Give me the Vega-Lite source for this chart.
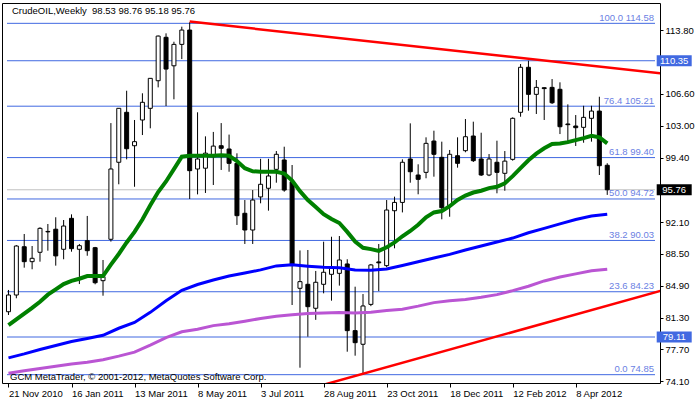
{
  "$schema": "https://vega.github.io/schema/vega-lite/v6.json",
  "width": 658,
  "height": 380,
  "autosize": {"type": "none"},
  "padding": {"left": 2, "top": 3, "right": 40, "bottom": 19},
  "background": "white",
  "config": {
    "view": {"stroke": "black", "strokeWidth": 1},
    "font": "Liberation Sans",
    "text": {"font": "Liberation Sans"},
    "axis": {"grid": false, "domain": false, "title": null, "tickColor": "black", "labelColor": "black", "labelFont": "Liberation Sans", "labelFontSize": 9.5, "labelOverlap": false, "labelBound": false, "labelFlush": false}
  },
  "datasets": {
    "candles": [
      {"d":"2010-11-21","o":81.97,"h":84.43,"l":81.6,"c":83.86},
      {"d":"2010-11-28","o":83.86,"h":89.5,"l":83.49,"c":89.4},
      {"d":"2010-12-05","o":89.32,"h":90.76,"l":86.95,"c":87.63},
      {"d":"2010-12-12","o":87.63,"h":89.4,"l":86.77,"c":88.01},
      {"d":"2010-12-19","o":88.69,"h":91.52,"l":87.63,"c":91.4},
      {"d":"2010-12-26","o":91.0,"h":91.89,"l":88.87,"c":91.05},
      {"d":"2011-01-02","o":91.3,"h":92.65,"l":87.18,"c":88.28},
      {"d":"2011-01-09","o":89.03,"h":92.34,"l":87.9,"c":91.66},
      {"d":"2011-01-16","o":92.53,"h":92.98,"l":88.76,"c":89.1},
      {"d":"2011-01-23","o":89.03,"h":89.63,"l":85.1,"c":89.44},
      {"d":"2011-01-30","o":90.0,"h":92.8,"l":88.3,"c":88.87},
      {"d":"2011-02-06","o":89.21,"h":89.3,"l":85.07,"c":85.25},
      {"d":"2011-02-13","o":85.48,"h":87.82,"l":83.78,"c":85.93},
      {"d":"2011-02-20","o":90.16,"h":103.3,"l":89.9,"c":98.11},
      {"d":"2011-02-27","o":98.87,"h":105.0,"l":96.38,"c":104.97},
      {"d":"2011-03-06","o":104.52,"h":106.96,"l":99.2,"c":100.4},
      {"d":"2011-03-13","o":100.74,"h":103.65,"l":96.1,"c":101.2},
      {"d":"2011-03-20","o":103.65,"h":106.67,"l":101.95,"c":105.65},
      {"d":"2011-03-27","o":104.97,"h":108.36,"l":102.71,"c":108.36},
      {"d":"2011-04-03","o":108.09,"h":113.2,"l":107.34,"c":113.14},
      {"d":"2011-04-10","o":113.0,"h":113.45,"l":105.23,"c":109.41},
      {"d":"2011-04-17","o":109.78,"h":112.5,"l":105.99,"c":112.2},
      {"d":"2011-04-24","o":112.2,"h":114.2,"l":110.54,"c":113.82},
      {"d":"2011-05-01","o":113.82,"h":114.7,"l":94.72,"c":97.92},
      {"d":"2011-05-08","o":98.11,"h":104.52,"l":95.24,"c":99.24},
      {"d":"2011-05-15","o":98.2,"h":101.8,"l":95.4,"c":99.9},
      {"d":"2011-05-22","o":99.5,"h":102.3,"l":96.3,"c":100.7},
      {"d":"2011-05-29","o":100.74,"h":103.3,"l":98.0,"c":100.45},
      {"d":"2011-06-05","o":100.37,"h":102.0,"l":97.8,"c":98.75},
      {"d":"2011-06-12","o":98.75,"h":99.88,"l":91.78,"c":92.83},
      {"d":"2011-06-19","o":93.1,"h":94.6,"l":89.63,"c":91.21},
      {"d":"2011-06-26","o":91.21,"h":95.73,"l":89.63,"c":94.6},
      {"d":"2011-07-03","o":94.95,"h":99.26,"l":94.23,"c":96.38},
      {"d":"2011-07-10","o":95.93,"h":99.26,"l":93.4,"c":97.32},
      {"d":"2011-07-17","o":98.07,"h":100.14,"l":96.56,"c":99.77},
      {"d":"2011-07-24","o":99.13,"h":100.63,"l":95.54,"c":95.73},
      {"d":"2011-07-31","o":96.67,"h":98.56,"l":82.73,"c":87.2},
      {"d":"2011-08-07","o":84.62,"h":88.9,"l":75.64,"c":85.37},
      {"d":"2011-08-14","o":85.07,"h":88.95,"l":79.15,"c":82.54},
      {"d":"2011-08-21","o":82.36,"h":86.58,"l":81.05,"c":85.3},
      {"d":"2011-08-28","o":85.07,"h":89.89,"l":84.05,"c":86.43},
      {"d":"2011-09-04","o":86.2,"h":90.45,"l":83.22,"c":86.88},
      {"d":"2011-09-11","o":86.31,"h":90.53,"l":84.92,"c":87.82},
      {"d":"2011-09-18","o":87.37,"h":87.9,"l":77.45,"c":79.83},
      {"d":"2011-09-25","o":79.83,"h":84.8,"l":77.0,"c":78.47},
      {"d":"2011-10-02","o":78.29,"h":83.97,"l":74.85,"c":82.62},
      {"d":"2011-10-09","o":82.8,"h":87.37,"l":82.6,"c":87.26},
      {"d":"2011-10-16","o":87.6,"h":89.63,"l":84.3,"c":87.5},
      {"d":"2011-10-23","o":87.18,"h":94.6,"l":87.0,"c":93.47},
      {"d":"2011-10-30","o":93.39,"h":94.98,"l":89.14,"c":94.33},
      {"d":"2011-11-06","o":94.33,"h":99.2,"l":93.2,"c":98.87},
      {"d":"2011-11-13","o":99.24,"h":103.27,"l":96.56,"c":97.8},
      {"d":"2011-11-20","o":97.43,"h":98.64,"l":95.25,"c":96.94},
      {"d":"2011-11-27","o":97.73,"h":101.69,"l":97.06,"c":101.01},
      {"d":"2011-12-04","o":101.27,"h":102.44,"l":97.24,"c":99.77},
      {"d":"2011-12-11","o":99.43,"h":101.2,"l":92.42,"c":93.73},
      {"d":"2011-12-18","o":93.96,"h":100.26,"l":92.71,"c":99.77},
      {"d":"2011-12-25","o":99.61,"h":101.69,"l":98.26,"c":98.75},
      {"d":"2012-01-01","o":100.18,"h":103.76,"l":100.0,"c":101.76},
      {"d":"2012-01-08","o":101.84,"h":103.46,"l":98.9,"c":99.05},
      {"d":"2012-01-15","o":99.24,"h":102.21,"l":97.32,"c":97.43},
      {"d":"2012-01-22","o":97.43,"h":99.8,"l":97.3,"c":99.24},
      {"d":"2012-01-29","o":98.87,"h":101.31,"l":95.36,"c":97.73},
      {"d":"2012-02-05","o":97.62,"h":100.14,"l":95.65,"c":99.0},
      {"d":"2012-02-12","o":99.2,"h":103.95,"l":99.05,"c":103.84},
      {"d":"2012-02-19","o":104.52,"h":109.98,"l":104.02,"c":109.61},
      {"d":"2012-02-26","o":109.61,"h":110.35,"l":104.7,"c":106.55},
      {"d":"2012-03-04","o":106.55,"h":108.17,"l":104.33,"c":107.34},
      {"d":"2012-03-11","o":107.3,"h":107.34,"l":103.65,"c":107.2},
      {"d":"2012-03-18","o":107.34,"h":108.28,"l":105.46,"c":105.6},
      {"d":"2012-03-25","o":107.12,"h":107.91,"l":102.06,"c":102.89},
      {"d":"2012-04-01","o":103.2,"h":105.42,"l":101.08,"c":103.12},
      {"d":"2012-04-08","o":102.97,"h":104.21,"l":100.71,"c":102.78},
      {"d":"2012-04-15","o":102.82,"h":105.26,"l":101.08,"c":103.95},
      {"d":"2012-04-22","o":103.84,"h":105.26,"l":101.2,"c":104.66},
      {"d":"2012-04-29","o":104.66,"h":106.28,"l":97.43,"c":98.48},
      {"d":"2012-05-06","o":98.53,"h":98.76,"l":95.18,"c":95.76}
    ],
    "green": [
      {"d":"2010-11-21","v":80.45},{"d":"2010-11-28","v":81.1},{"d":"2010-12-05","v":81.75},{"d":"2010-12-12","v":82.4},
      {"d":"2010-12-19","v":83.1},{"d":"2010-12-26","v":83.9},{"d":"2011-01-02","v":84.5},{"d":"2011-01-09","v":85.1},
      {"d":"2011-01-16","v":85.45},{"d":"2011-01-23","v":85.7},{"d":"2011-01-30","v":86.0},{"d":"2011-02-06","v":86.0},
      {"d":"2011-02-13","v":86.0},{"d":"2011-02-20","v":87.3},{"d":"2011-02-27","v":88.5},{"d":"2011-03-06","v":89.8},
      {"d":"2011-03-13","v":91.0},{"d":"2011-03-20","v":92.4},{"d":"2011-03-27","v":94.0},{"d":"2011-04-03","v":95.5},
      {"d":"2011-04-10","v":96.7},{"d":"2011-04-17","v":98.1},{"d":"2011-04-24","v":99.5},{"d":"2011-05-01","v":99.6},
      {"d":"2011-05-08","v":99.6},{"d":"2011-05-15","v":99.6},{"d":"2011-05-22","v":99.6},{"d":"2011-05-29","v":99.65},
      {"d":"2011-06-05","v":99.6},{"d":"2011-06-12","v":99.0},{"d":"2011-06-19","v":98.2},{"d":"2011-06-26","v":97.85},
      {"d":"2011-07-03","v":97.8},{"d":"2011-07-10","v":97.8},{"d":"2011-07-17","v":97.8},{"d":"2011-07-24","v":97.6},
      {"d":"2011-07-31","v":96.8},{"d":"2011-08-07","v":95.6},{"d":"2011-08-14","v":94.6},{"d":"2011-08-21","v":93.8},
      {"d":"2011-08-28","v":93.0},{"d":"2011-09-04","v":92.45},{"d":"2011-09-11","v":92.0},{"d":"2011-09-18","v":91.0},
      {"d":"2011-09-25","v":89.9},{"d":"2011-10-02","v":89.2},{"d":"2011-10-09","v":89.05},{"d":"2011-10-16","v":88.85},
      {"d":"2011-10-23","v":89.25},{"d":"2011-10-30","v":89.8},{"d":"2011-11-06","v":90.5},{"d":"2011-11-13","v":91.1},
      {"d":"2011-11-20","v":91.8},{"d":"2011-11-27","v":92.65},{"d":"2011-12-04","v":93.2},{"d":"2011-12-11","v":93.35},
      {"d":"2011-12-18","v":93.9},{"d":"2011-12-25","v":94.6},{"d":"2012-01-01","v":95.1},{"d":"2012-01-08","v":95.45},
      {"d":"2012-01-15","v":95.65},{"d":"2012-01-22","v":95.95},{"d":"2012-01-29","v":96.1},{"d":"2012-02-05","v":96.5},
      {"d":"2012-02-12","v":97.3},{"d":"2012-02-19","v":98.2},{"d":"2012-02-26","v":99.1},{"d":"2012-03-04","v":99.85},
      {"d":"2012-03-11","v":100.45},{"d":"2012-03-18","v":100.93},{"d":"2012-03-25","v":101.0},{"d":"2012-04-01","v":101.15},
      {"d":"2012-04-08","v":101.38},{"d":"2012-04-15","v":101.6},{"d":"2012-04-22","v":101.87},{"d":"2012-04-29","v":101.69},
      {"d":"2012-05-06","v":101.0}
    ],
    "blue": [
      {"d":"2010-11-21","v":76.75},{"d":"2010-12-05","v":77.2},{"d":"2010-12-19","v":77.7},{"d":"2011-01-02","v":78.15},
      {"d":"2011-01-16","v":78.6},{"d":"2011-01-30","v":78.95},{"d":"2011-02-13","v":79.3},{"d":"2011-02-27","v":80.1},
      {"d":"2011-03-13","v":80.75},{"d":"2011-03-27","v":81.9},{"d":"2011-04-10","v":83.2},{"d":"2011-04-24","v":84.4},
      {"d":"2011-05-08","v":85.05},{"d":"2011-05-22","v":85.55},{"d":"2011-06-05","v":86.0},{"d":"2011-06-19","v":86.35},
      {"d":"2011-07-03","v":86.7},{"d":"2011-07-17","v":87.15},{"d":"2011-07-31","v":87.27},{"d":"2011-08-14","v":87.12},
      {"d":"2011-08-28","v":87.0},{"d":"2011-09-11","v":86.95},{"d":"2011-09-25","v":86.7},{"d":"2011-10-09","v":86.65},
      {"d":"2011-10-23","v":86.8},{"d":"2011-11-06","v":87.2},{"d":"2011-11-20","v":87.62},{"d":"2011-12-04","v":88.05},
      {"d":"2011-12-18","v":88.45},{"d":"2012-01-01","v":88.95},{"d":"2012-01-15","v":89.4},{"d":"2012-01-29","v":89.85},
      {"d":"2012-02-12","v":90.3},{"d":"2012-02-26","v":90.9},{"d":"2012-03-11","v":91.4},{"d":"2012-03-25","v":91.9},
      {"d":"2012-04-08","v":92.4},{"d":"2012-04-22","v":92.8},{"d":"2012-05-06","v":93.0}
    ],
    "purple": [
      {"d":"2010-11-21","v":75.02},{"d":"2010-12-05","v":75.3},{"d":"2010-12-19","v":75.55},{"d":"2011-01-02","v":75.8},
      {"d":"2011-01-16","v":76.05},{"d":"2011-01-30","v":76.25},{"d":"2011-02-13","v":76.55},{"d":"2011-02-27","v":76.95},
      {"d":"2011-03-13","v":77.4},{"d":"2011-03-27","v":78.2},{"d":"2011-04-10","v":79.05},{"d":"2011-04-24","v":79.7},
      {"d":"2011-05-08","v":79.98},{"d":"2011-05-22","v":80.4},{"d":"2011-06-05","v":80.6},{"d":"2011-06-19","v":80.9},
      {"d":"2011-07-03","v":81.2},{"d":"2011-07-17","v":81.45},{"d":"2011-07-31","v":81.62},{"d":"2011-08-14","v":81.77},
      {"d":"2011-08-28","v":81.83},{"d":"2011-09-11","v":81.88},{"d":"2011-09-25","v":81.82},{"d":"2011-10-09","v":81.9},
      {"d":"2011-10-23","v":82.1},{"d":"2011-11-06","v":82.25},{"d":"2011-11-20","v":82.6},{"d":"2011-12-04","v":83.0},
      {"d":"2011-12-18","v":83.2},{"d":"2012-01-01","v":83.35},{"d":"2012-01-15","v":83.6},{"d":"2012-01-29","v":83.9},
      {"d":"2012-02-12","v":84.35},{"d":"2012-02-26","v":84.85},{"d":"2012-03-11","v":85.45},{"d":"2012-03-25","v":85.9},
      {"d":"2012-04-08","v":86.25},{"d":"2012-04-22","v":86.6},{"d":"2012-05-06","v":86.77}
    ],
    "levels": [
      {"p":114.58},{"p":110.35},{"p":105.21},{"p":99.40},{"p":94.72},{"p":90.03},{"p":84.23},{"p":79.11},{"p":74.85}
    ],
    "fib": [
      {"p":114.58,"t":"100.0 114.58"},{"p":105.21,"t":"76.4 105.21"},{"p":99.40,"t":"61.8 99.40"},
      {"p":94.72,"t":"50.0 94.72"},{"p":90.03,"t":"38.2 90.03"},{"p":84.23,"t":"23.6 84.23"},{"p":74.85,"t":"0.0 74.85"}
    ],
    "trend": [
      {"line":"upper","d":"2011-05-01","p":114.78},{"line":"upper","d":"2012-07-01","p":108.81},
      {"line":"lower","d":"2011-07-31","p":72.72},{"line":"lower","d":"2012-07-01","p":84.64}
    ],
    "boxes": [{"p":110.35},{"p":95.76},{"p":79.11}]
  },
  "layer": [
    {
      "data": {"name": "levels"},
      "mark": {"type": "rule", "color": "#4169E1", "strokeWidth": 1},
      "encoding": {
        "x": {"datum": {"year": 2012, "month": 6, "date": 17, "hours": 10, "minutes": 30, "utc": true}, "type": "temporal", "scale": {"type": "utc", "domain": [1290184200000, 1339929000000]}, "axis": {"labelExpr": "utcFormat(datum.value, '%-d %b %Y')", "values": [1290297600000, 1295136000000, 1299974400000, 1304812800000, 1309651200000, 1314489600000, 1319328000000, 1324166400000, 1329004800000, 1333843200000], "tickSize": 4, "labelAlign": "left", "labelPadding": 1}},
        "x2": {"datum": {"year": 2010, "month": 11, "date": 19, "hours": 16, "minutes": 30, "utc": true}},
        "y": {"field": "p", "type": "quantitative", "scale": {"domain": [73.91, 116.88], "nice": false, "zero": false}, "axis": {"orient": "right", "values": [113.8, 106.6, 103, 99.4, 92.1, 88.5, 84.9, 81.3, 77.7, 74.1], "format": ".2f", "tickSize": 3, "labelPadding": 2}}
      }
    },
    {
      "data": {"values": [{"p": 95.76}]},
      "mark": {"type": "rule", "color": "#C0C0C0", "strokeWidth": 1},
      "encoding": {
        "x": {"datum": {"year": 2012, "month": 6, "date": 17, "hours": 10, "minutes": 30, "utc": true}, "type": "temporal", "scale": {"type": "utc", "domain": [1290184200000, 1339929000000]}, "axis": {"labelExpr": "utcFormat(datum.value, '%-d %b %Y')", "values": [1290297600000, 1295136000000, 1299974400000, 1304812800000, 1309651200000, 1314489600000, 1319328000000, 1324166400000, 1329004800000, 1333843200000], "tickSize": 4, "labelAlign": "left", "labelPadding": 1}},
        "x2": {"datum": {"year": 2010, "month": 11, "date": 19, "hours": 16, "minutes": 30, "utc": true}},
        "y": {"field": "p", "type": "quantitative", "scale": {"domain": [73.91, 116.88], "nice": false, "zero": false}, "axis": {"orient": "right", "values": [113.8, 106.6, 103, 99.4, 92.1, 88.5, 84.9, 81.3, 77.7, 74.1], "format": ".2f", "tickSize": 3, "labelPadding": 2}}
      }
    },
    {
      "data": {"name": "candles"},
      "mark": {"type": "rule", "color": "black", "strokeWidth": 1, "clip": true},
      "encoding": {
        "x": {"field": "d", "type": "temporal", "scale": {"type": "utc", "domain": [1290184200000, 1339929000000]}, "axis": {"labelExpr": "utcFormat(datum.value, '%-d %b %Y')", "values": [1290297600000, 1295136000000, 1299974400000, 1304812800000, 1309651200000, 1314489600000, 1319328000000, 1324166400000, 1329004800000, 1333843200000], "tickSize": 4, "labelAlign": "left", "labelPadding": 1}},
        "y": {"field": "l", "type": "quantitative", "scale": {"domain": [73.91, 116.88], "nice": false, "zero": false}, "axis": {"orient": "right", "values": [113.8, 106.6, 103, 99.4, 92.1, 88.5, 84.9, 81.3, 77.7, 74.1], "format": ".2f", "tickSize": 3, "labelPadding": 2}},
        "y2": {"field": "h"}
      }
    },
    {
      "data": {"name": "candles"},
      "mark": {"type": "bar", "width": 4, "stroke": "black", "strokeWidth": 1, "clip": true},
      "encoding": {
        "x": {"field": "d", "type": "temporal", "scale": {"type": "utc", "domain": [1290184200000, 1339929000000]}, "axis": {"labelExpr": "utcFormat(datum.value, '%-d %b %Y')", "values": [1290297600000, 1295136000000, 1299974400000, 1304812800000, 1309651200000, 1314489600000, 1319328000000, 1324166400000, 1329004800000, 1333843200000], "tickSize": 4, "labelAlign": "left", "labelPadding": 1}},
        "y": {"field": "o", "type": "quantitative", "scale": {"domain": [73.91, 116.88], "nice": false, "zero": false}, "axis": {"orient": "right", "values": [113.8, 106.6, 103, 99.4, 92.1, 88.5, 84.9, 81.3, 77.7, 74.1], "format": ".2f", "tickSize": 3, "labelPadding": 2}},
        "y2": {"field": "c"},
        "fill": {"condition": {"test": "datum.o > datum.c", "value": "black"}, "value": "white"}
      }
    },
    {
      "data": {"name": "purple"},
      "mark": {"type": "line", "color": "#BA55D3", "strokeWidth": 3, "clip": true},
      "encoding": {
        "x": {"field": "d", "type": "temporal", "scale": {"type": "utc", "domain": [1290184200000, 1339929000000]}, "axis": {"labelExpr": "utcFormat(datum.value, '%-d %b %Y')", "values": [1290297600000, 1295136000000, 1299974400000, 1304812800000, 1309651200000, 1314489600000, 1319328000000, 1324166400000, 1329004800000, 1333843200000], "tickSize": 4, "labelAlign": "left", "labelPadding": 1}},
        "y": {"field": "v", "type": "quantitative", "scale": {"domain": [73.91, 116.88], "nice": false, "zero": false}, "axis": {"orient": "right", "values": [113.8, 106.6, 103, 99.4, 92.1, 88.5, 84.9, 81.3, 77.7, 74.1], "format": ".2f", "tickSize": 3, "labelPadding": 2}}
      }
    },
    {
      "data": {"name": "blue"},
      "mark": {"type": "line", "color": "#0000FF", "strokeWidth": 3, "clip": true},
      "encoding": {
        "x": {"field": "d", "type": "temporal", "scale": {"type": "utc", "domain": [1290184200000, 1339929000000]}, "axis": {"labelExpr": "utcFormat(datum.value, '%-d %b %Y')", "values": [1290297600000, 1295136000000, 1299974400000, 1304812800000, 1309651200000, 1314489600000, 1319328000000, 1324166400000, 1329004800000, 1333843200000], "tickSize": 4, "labelAlign": "left", "labelPadding": 1}},
        "y": {"field": "v", "type": "quantitative", "scale": {"domain": [73.91, 116.88], "nice": false, "zero": false}, "axis": {"orient": "right", "values": [113.8, 106.6, 103, 99.4, 92.1, 88.5, 84.9, 81.3, 77.7, 74.1], "format": ".2f", "tickSize": 3, "labelPadding": 2}}
      }
    },
    {
      "data": {"name": "green"},
      "mark": {"type": "line", "color": "#008000", "strokeWidth": 4, "clip": true},
      "encoding": {
        "x": {"field": "d", "type": "temporal", "scale": {"type": "utc", "domain": [1290184200000, 1339929000000]}, "axis": {"labelExpr": "utcFormat(datum.value, '%-d %b %Y')", "values": [1290297600000, 1295136000000, 1299974400000, 1304812800000, 1309651200000, 1314489600000, 1319328000000, 1324166400000, 1329004800000, 1333843200000], "tickSize": 4, "labelAlign": "left", "labelPadding": 1}},
        "y": {"field": "v", "type": "quantitative", "scale": {"domain": [73.91, 116.88], "nice": false, "zero": false}, "axis": {"orient": "right", "values": [113.8, 106.6, 103, 99.4, 92.1, 88.5, 84.9, 81.3, 77.7, 74.1], "format": ".2f", "tickSize": 3, "labelPadding": 2}}
      }
    },
    {
      "data": {"name": "trend"},
      "mark": {"type": "line", "color": "#FF0000", "strokeWidth": 2.5, "clip": true},
      "encoding": {
        "x": {"field": "d", "type": "temporal", "scale": {"type": "utc", "domain": [1290184200000, 1339929000000]}, "axis": {"labelExpr": "utcFormat(datum.value, '%-d %b %Y')", "values": [1290297600000, 1295136000000, 1299974400000, 1304812800000, 1309651200000, 1314489600000, 1319328000000, 1324166400000, 1329004800000, 1333843200000], "tickSize": 4, "labelAlign": "left", "labelPadding": 1}},
        "y": {"field": "p", "type": "quantitative", "scale": {"domain": [73.91, 116.88], "nice": false, "zero": false}, "axis": {"orient": "right", "values": [113.8, 106.6, 103, 99.4, 92.1, 88.5, 84.9, 81.3, 77.7, 74.1], "format": ".2f", "tickSize": 3, "labelPadding": 2}},
        "detail": {"field": "line"}
      }
    },
    {
      "data": {"name": "fib"},
      "mark": {"type": "text", "align": "right", "baseline": "alphabetic", "dx": -1, "dy": -2.5, "fontSize": 9.5, "color": "#6B7FE3"},
      "encoding": {
        "x": {"datum": {"year": 2012, "month": 6, "date": 17, "hours": 10, "minutes": 30, "utc": true}, "type": "temporal", "scale": {"type": "utc", "domain": [1290184200000, 1339929000000]}, "axis": {"labelExpr": "utcFormat(datum.value, '%-d %b %Y')", "values": [1290297600000, 1295136000000, 1299974400000, 1304812800000, 1309651200000, 1314489600000, 1319328000000, 1324166400000, 1329004800000, 1333843200000], "tickSize": 4, "labelAlign": "left", "labelPadding": 1}},
        "y": {"field": "p", "type": "quantitative", "scale": {"domain": [73.91, 116.88], "nice": false, "zero": false}, "axis": {"orient": "right", "values": [113.8, 106.6, 103, 99.4, 92.1, 88.5, 84.9, 81.3, 77.7, 74.1], "format": ".2f", "tickSize": 3, "labelPadding": 2}},
        "text": {"field": "t"}
      }
    },
    {
      "data": {"values": [{"t": "CrudeOIL,Weekly\u00a0 98.53 98.76 95.18 95.76"}]},
      "mark": {"type": "text", "align": "left", "baseline": "alphabetic", "dx": 5, "dy": 11, "fontSize": 9.5, "color": "black"},
      "encoding": {
        "x": {"datum": {"year": 2010, "month": 11, "date": 19, "hours": 16, "minutes": 30, "utc": true}, "type": "temporal", "scale": {"type": "utc", "domain": [1290184200000, 1339929000000]}, "axis": {"labelExpr": "utcFormat(datum.value, '%-d %b %Y')", "values": [1290297600000, 1295136000000, 1299974400000, 1304812800000, 1309651200000, 1314489600000, 1319328000000, 1324166400000, 1329004800000, 1333843200000], "tickSize": 4, "labelAlign": "left", "labelPadding": 1}},
        "y": {"datum": 116.88, "type": "quantitative", "scale": {"domain": [73.91, 116.88], "nice": false, "zero": false}, "axis": {"orient": "right", "values": [113.8, 106.6, 103, 99.4, 92.1, 88.5, 84.9, 81.3, 77.7, 74.1], "format": ".2f", "tickSize": 3, "labelPadding": 2}},
        "text": {"field": "t"}
      }
    },
    {
      "data": {"values": [{"t": "GCM MetaTrader, \u00a9 2001-2012, MetaQuotes Software Corp."}]},
      "mark": {"type": "text", "align": "left", "baseline": "alphabetic", "dx": 3, "dy": -3, "fontSize": 9.5, "color": "black"},
      "encoding": {
        "x": {"datum": {"year": 2010, "month": 11, "date": 19, "hours": 16, "minutes": 30, "utc": true}, "type": "temporal", "scale": {"type": "utc", "domain": [1290184200000, 1339929000000]}, "axis": {"labelExpr": "utcFormat(datum.value, '%-d %b %Y')", "values": [1290297600000, 1295136000000, 1299974400000, 1304812800000, 1309651200000, 1314489600000, 1319328000000, 1324166400000, 1329004800000, 1333843200000], "tickSize": 4, "labelAlign": "left", "labelPadding": 1}},
        "y": {"datum": 73.91, "type": "quantitative", "scale": {"domain": [73.91, 116.88], "nice": false, "zero": false}, "axis": {"orient": "right", "values": [113.8, 106.6, 103, 99.4, 92.1, 88.5, 84.9, 81.3, 77.7, 74.1], "format": ".2f", "tickSize": 3, "labelPadding": 2}},
        "text": {"field": "t"}
      }
    },
    {
      "data": {"name": "boxes"},
      "mark": {"type": "tick", "orient": "horizontal", "size": 35, "thickness": 11, "opacity": 1},
      "encoding": {
        "x": {"datum": {"year": 2012, "month": 7, "date": 4, "hours": 12, "utc": true}, "type": "temporal", "scale": {"type": "utc", "domain": [1290184200000, 1339929000000]}, "axis": {"labelExpr": "utcFormat(datum.value, '%-d %b %Y')", "values": [1290297600000, 1295136000000, 1299974400000, 1304812800000, 1309651200000, 1314489600000, 1319328000000, 1324166400000, 1329004800000, 1333843200000], "tickSize": 4, "labelAlign": "left", "labelPadding": 1}},
        "y": {"field": "p", "type": "quantitative", "scale": {"domain": [73.91, 116.88], "nice": false, "zero": false}, "axis": {"orient": "right", "values": [113.8, 106.6, 103, 99.4, 92.1, 88.5, 84.9, 81.3, 77.7, 74.1], "format": ".2f", "tickSize": 3, "labelPadding": 2}},
        "color": {"condition": {"test": "datum.p == 95.76", "value": "black"}, "value": "#4169E1"}
      }
    },
    {
      "data": {"name": "boxes"},
      "mark": {"type": "text", "align": "center", "baseline": "middle", "fontSize": 9.5, "color": "white"},
      "encoding": {
        "x": {"datum": {"year": 2012, "month": 7, "date": 4, "hours": 12, "utc": true}, "type": "temporal", "scale": {"type": "utc", "domain": [1290184200000, 1339929000000]}, "axis": {"labelExpr": "utcFormat(datum.value, '%-d %b %Y')", "values": [1290297600000, 1295136000000, 1299974400000, 1304812800000, 1309651200000, 1314489600000, 1319328000000, 1324166400000, 1329004800000, 1333843200000], "tickSize": 4, "labelAlign": "left", "labelPadding": 1}},
        "y": {"field": "p", "type": "quantitative", "scale": {"domain": [73.91, 116.88], "nice": false, "zero": false}, "axis": {"orient": "right", "values": [113.8, 106.6, 103, 99.4, 92.1, 88.5, 84.9, 81.3, 77.7, 74.1], "format": ".2f", "tickSize": 3, "labelPadding": 2}},
        "text": {"field": "p", "type": "quantitative", "format": ".2f"}
      }
    }
  ]
}
